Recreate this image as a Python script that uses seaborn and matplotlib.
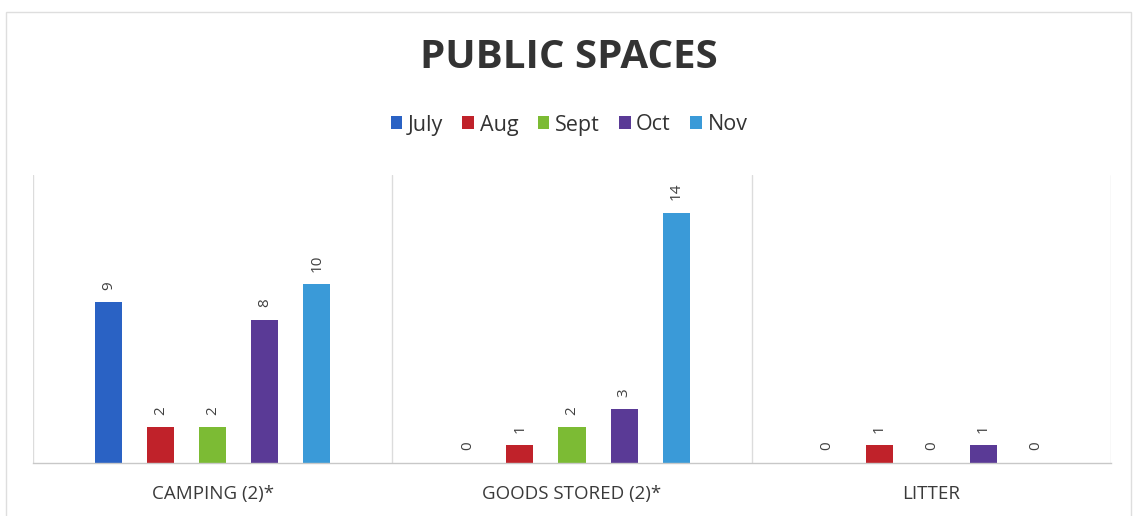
import matplotlib
matplotlib.use("Agg")
import matplotlib.pyplot as plt
import seaborn as sns
import pandas as pd
from matplotlib.patches import Rectangle, Patch

categories = ["CAMPING (2)*", "GOODS STORED (2)*", "LITTER"]
months = ["July", "Aug", "Sept", "Oct", "Nov"]
july = [9, 0, 0]
aug = [2, 1, 1]
sept = [2, 2, 0]
oct_ = [8, 3, 1]
nov = [10, 14, 0]
colors = ["#2a62c4", "#c0222a", "#7cbb34", "#5a3a96", "#3a9ad8"]

series = {"July": july, "Aug": aug, "Sept": sept, "Oct": oct_, "Nov": nov}
rows = []
for m in months:
    for c, v in zip(categories, series[m]):
        rows.append({"category": c, "month": m, "count": v})
df = pd.DataFrame(rows)

sns.set_theme(style="white")
plt.rcParams["font.family"] = ["Open Sans", "DejaVu Sans"]

fig = plt.figure(figsize=(11.38, 5.16), dpi=100)
ax = fig.add_axes([33 / 1138, 1 - 463 / 516, (1111 - 33) / 1138, (463 - 175) / 516])

sns.barplot(data=df, x="category", y="count", hue="month", hue_order=months,
            palette=colors, width=0.725, gap=0.48, ax=ax, legend=False,
            saturation=1, edgecolor="none")

ax.set_ylim(0, 16.1)
ax.set_xlim(-0.5, 2.5)
ax.set_xlabel("")
ax.set_ylabel("")
ax.set_yticks([])
ax.tick_params(axis="x", length=0, pad=16, labelsize=13.5, colors="#3a3a3a")
for s in ["top", "right", "left"]:
    ax.spines[s].set_visible(False)
ax.spines["bottom"].set_color("#c8c8c8")
ax.spines["bottom"].set_linewidth(1.0)
for xv in [-0.5, 0.5, 1.5, 2.5]:
    ax.axvline(xv, color="#dcdcdc", lw=1.0, zorder=0)

for cont in ax.containers:
    for bar in cont:
        h = bar.get_height()
        ax.annotate(f"{int(round(h))}", (bar.get_x() + bar.get_width() / 2, h),
                    xytext=(0, 9), textcoords="offset points", rotation=90,
                    ha="center", va="bottom", fontsize=11, color="#404040")

fig.text(0.5, 1 - 57 / 516, "PUBLIC SPACES", ha="center", va="center",
         fontsize=29, fontweight="bold", color="#333333")

handles = [Patch(facecolor=c, edgecolor="none") for c in colors]
fig.legend(handles, months, loc="center", bbox_to_anchor=(0.5, 1 - 125 / 516),
           ncol=5, frameon=False, fontsize=15.5, handlelength=0.55, handleheight=0.55,
           handletextpad=0.25, columnspacing=0.9, labelcolor="#333333")

fig.patches.append(Rectangle((6 / 1138, -0.01), (1131 - 6) / 1138, 1 - 12 / 516 + 0.01,
                             transform=fig.transFigure, fill=False,
                             edgecolor="#dedede", lw=1.0))

fig.savefig("out.png", dpi=100, facecolor="white")
